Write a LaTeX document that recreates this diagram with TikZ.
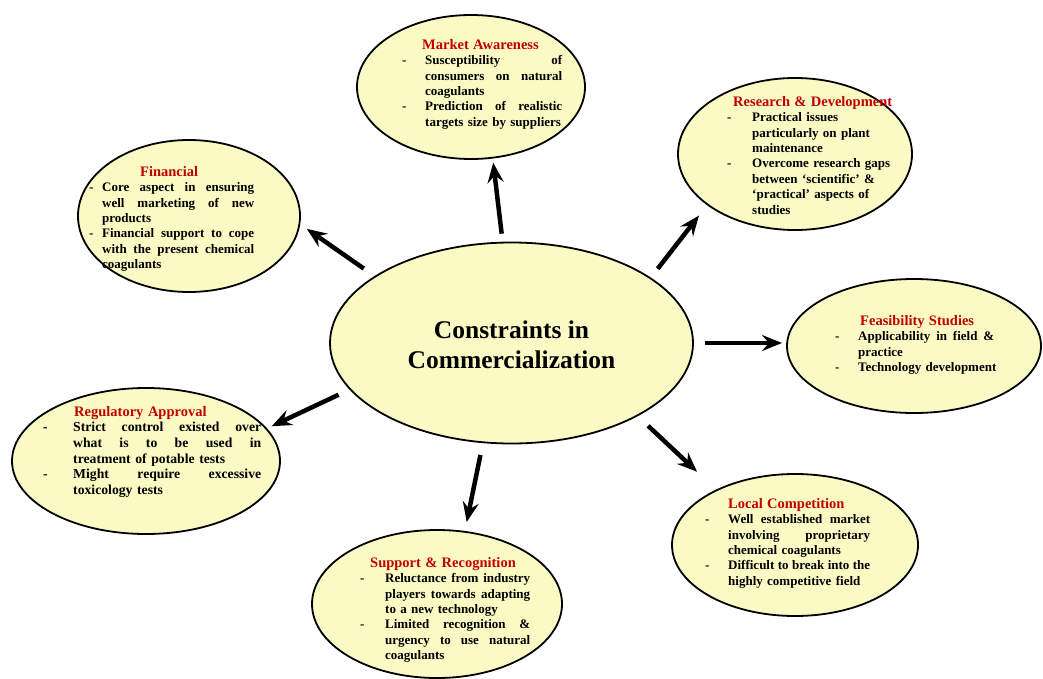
\documentclass[tikz,border=0pt]{standalone}
\usepackage{fontspec}
\setmainfont{Liberation Serif}
\usetikzlibrary{shapes.geometric,arrows.meta}
\definecolor{ellfill}{RGB}{252,250,196}
\definecolor{tred}{RGB}{192,0,0}
\newcommand\qsp{\spaceskip=.25em plus 1fil\relax}
\newcommand\qDJ[3]{\makebox[#1pt][l]{-}\makebox[#2pt][s]{\qsp #3}}
\newcommand\qDL[3]{\makebox[#1pt][l]{-}\makebox[#2pt][l]{#3}}
\newcommand\qCJ[3]{\hspace*{#1pt}\makebox[#2pt][s]{\qsp #3}}
\newcommand\qCL[3]{\hspace*{#1pt}\makebox[#2pt][l]{#3}}
\newcommand\qTT[2]{\hspace*{#1pt}{\color{tred}\fontsize{14.5}{15.4}\selectfont #2}}
\tikzset{
  ell/.style={draw, line width=1.8pt, fill=ellfill, ellipse, inner sep=0pt, outer sep=0pt},
  txt/.style={anchor=north west, inner sep=0pt, text width=260pt, align=left,
              font=\bfseries\fontsize{13}{15.4}\selectfont},
  arr/.style={line width=4.5pt, -{Stealth[length=20pt,width=16pt,inset=7pt]}},
}
\begin{document}
\begin{tikzpicture}[x=1pt,y=-1pt]
\fill[white] (0,0) rectangle (1043,679);
\useasboundingbox (0,0) rectangle (1043,679);

% ellipses
\node[ell, minimum width=363pt, minimum height=201pt] (c)  at (511.5,343) {};
\node[ell, minimum width=228pt, minimum height=144pt] (ma) at (471,87) {};
\node[ell, minimum width=234pt, minimum height=152pt] (rd) at (795,154) {};
\node[ell, minimum width=222pt, minimum height=152pt] (fi) at (189,216) {};
\node[ell, minimum width=254pt, minimum height=134pt] (fs) at (914,346) {};
\node[ell, minimum width=268pt, minimum height=146pt] (ra) at (146,461) {};
\node[ell, minimum width=250pt, minimum height=148pt] (sr) at (437,604) {};
\node[ell, minimum width=246pt, minimum height=142pt] (lc) at (795,545) {};

% central text
\node[align=center, inner sep=0pt, font=\bfseries\fontsize{25.5}{30}\selectfont] (ct) at (511.5,345) {Constraints in\\Commercialization};

% arrows
\draw[arr, shorten <=9pt, shorten >=5pt] (c.95) -- (ma.-73);
\draw[arr, shorten <=14pt, shorten >=9pt] (c.154) -- (fi.-4);
\draw[arr, shorten <=12pt, shorten >=14pt] (c.25) -- (rd.210);
\draw[arr, shorten <=12pt, shorten >=5pt] (c.east) -- (c.east -| fs.west);
\draw[arr, shorten <=15pt, shorten >=27pt] (c.-30) -- (lc.145);
\draw[arr, shorten <=13pt, shorten >=10pt] (c.-106) -- (sr.69);
\draw[arr, shorten <=13pt, shorten >=6pt] (c.196) -- (ra.15);

% texts
\node[txt] (maT) at (402,39) {\qTT{20}{Market Awareness}\\
\qDJ{23}{137}{Susceptibility of}\\
\qCJ{23}{137}{consumers on natural}\\
\qCL{23}{137}{coagulants}\\
\qDJ{23}{137}{Prediction of realistic}\\
\qCL{23}{137}{targets size by suppliers}};

\node[txt] (rdT) at (727,96) {\qTT{6}{Research \& Development}\\
\qDL{25}{150}{Practical issues}\\
\qCL{25}{150}{particularly on plant}\\
\qCL{25}{150}{maintenance}\\
\qDL{25}{150}{Overcome research gaps}\\
\qCL{25}{150}{between ‘scientific’ \&}\\
\qCL{25}{150}{‘practical’ aspects of}\\
\qCL{25}{150}{studies}};

\node[txt] (fiT) at (89,166) {\qTT{51}{Financial}\\
\qDJ{13}{152}{Core aspect in ensuring}\\
\qCJ{13}{152}{well marketing of new}\\
\qCL{13}{152}{products}\\
\qDJ{13}{152}{Financial support to cope}\\
\qCJ{13}{152}{with the present chemical}\\
\qCL{13}{152}{coagulants}};

\node[txt] (fsT) at (835,315) {\qTT{25}{Feasibility Studies}\\
\qDJ{23}{136}{Applicability in field \&}\\
\qCL{23}{136}{practice}\\
\qDL{23}{136}{Technology development}};

\node[txt, font=\bfseries\fontsize{13.7}{15.6}\selectfont] (raT) at (43,406) {\qTT{31}{Regulatory Approval}\\
\qDJ{30}{188}{Strict control existed over}\\
\qCJ{30}{188}{what is to be used in}\\
\qCL{30}{188}{treatment of potable tests}\\
\qDJ{30}{188}{Might require excessive}\\
\qCL{30}{188}{toxicology tests}};

\node[txt] (srT) at (360,557) {\qTT{10}{Support \& Recognition}\\
\qDJ{25}{145}{Reluctance from industry}\\
\qCJ{25}{145}{players towards adapting}\\
\qCL{25}{145}{to a new technology}\\
\qDJ{25}{145}{Limited recognition \&}\\
\qCJ{25}{145}{urgency to use natural}\\
\qCL{25}{145}{coagulants}};

\node[txt] (lcT) at (705,498) {\qTT{23}{Local Competition}\\
\qDJ{23}{142}{Well established market}\\
\qCJ{23}{142}{involving proprietary}\\
\qCL{23}{142}{chemical coagulants}\\
\qDJ{23}{142}{Difficult to break into the}\\
\qCL{23}{142}{highly competitive field}};
\end{tikzpicture}
\end{document}
